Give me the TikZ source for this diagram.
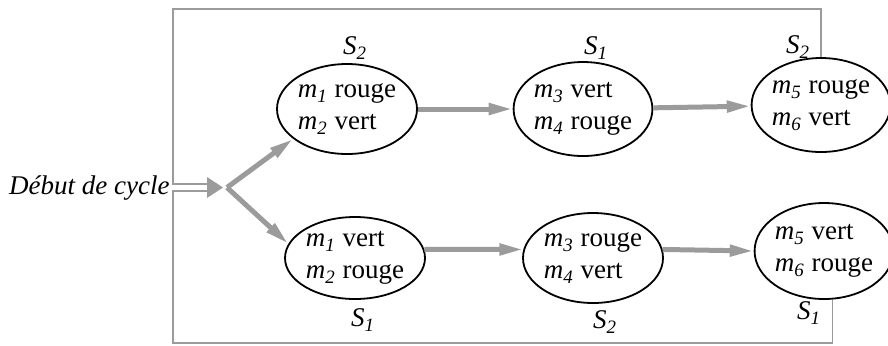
\documentclass[tikz,border=0pt]{standalone}
\usepackage{fontspec}
\setmainfont{Liberation Serif}
\usetikzlibrary{shapes.geometric,arrows.meta}
\definecolor{gris}{RGB}{155,155,155}
\newcommand{\indice}[2]{\textit{#1}\textsubscript{\textit{#2}}}

\begin{document}
\begin{tikzpicture}[x=0.5pt,y=-0.5pt,>={Triangle[length=12pt,width=5.5pt]},font=\fontsize{13.5}{16}\selectfont,
  etat node/.style={ellipse,draw,line width=0.9pt,inner sep=0pt,align=left},
  fleche/.style={gris,line width=2.5pt},
  boucle/.style={gris,line width=0.9pt}]
                \useasboundingbox (0,0) rectangle (888,345);

                \node[etat node,minimum width=70pt,minimum height=45pt] (e1) at (347,109) {\indice{m}{1} rouge\\\indice{m}{2} vert};
                \node[etat node,minimum width=67pt,minimum height=47pt] (e2) at (583,109) {\indice{m}{3} vert\\\indice{m}{4} rouge};
                \node[etat node,minimum width=67pt,minimum height=47pt] (e3) at (821,105) {\indice{m}{5} rouge\\\indice{m}{6} vert};
                \node[etat node,minimum width=70pt,minimum height=41pt] (b1) at (355,258) {\indice{m}{1} vert\\\indice{m}{2} rouge};
                \node[etat node,minimum width=70pt,minimum height=45pt] (b2) at (593,258) {\indice{m}{3} rouge\\\indice{m}{4} vert};
                \node[etat node,minimum width=62pt,minimum height=48pt] (b3) at (824,251) {\indice{m}{5} vert\\\indice{m}{6} rouge};

                \node (se1) at (355,48) {\indice{S}{2}};
                \node (se2) at (596,48) {\indice{S}{1}};
                \node (se3) at (798,47) {\indice{S}{2}};
                \node (sb1) at (363,320) {\indice{S}{1}};
                \node (sb2) at (605,322) {\indice{S}{2}};
                \node (sb3) at (809,313) {\indice{S}{1}};

                \node[anchor=east,inner sep=0pt] (debut) at (170,188) {\textit{Début de cycle}};

                \coordinate (haut) at (173,9);
                \coordinate (bas) at (173,343);
                \coordinate (entreehaut) at (207,184);
                \coordinate (entreebas) at (207,191);
                \coordinate (pointe) at (223,187.5);
                \coordinate (fourche) at (227,187.5);

                % retour des deux cycles
                \draw[boucle] (e3.north) |- (haut) |- (entreehaut);
                \draw[boucle] (b3.-80) |- (bas) |- (entreebas);
                \fill[gris] (207,177) -- (pointe) -- (207,198) -- cycle;

                \path[fleche,->]
                    (fourche) edge (e1.209)
                    (fourche) edge (b1.168)
                    (e1) edge (e2)
                    (e2) edge (e3)
                    (b1.7) edge (b2.173)
                    (b2.7) edge (b3.west)
                ;
            \end{tikzpicture}
\end{document}
